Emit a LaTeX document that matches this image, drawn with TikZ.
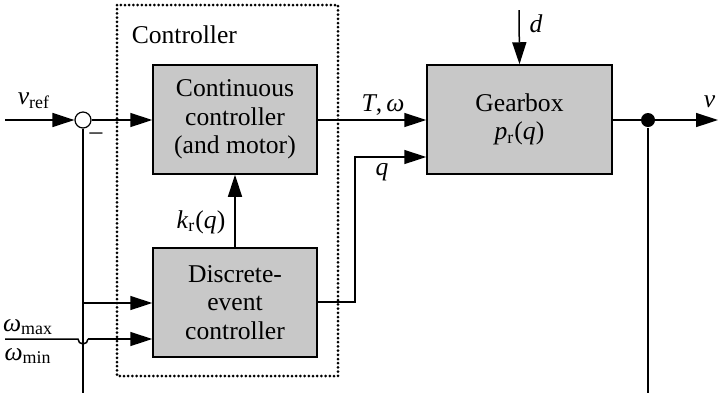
\documentclass[tikz,border=0pt]{standalone}
\usepackage{fontspec}
\setmainfont{Liberation Serif}
\usetikzlibrary{arrows.meta}
\definecolor{blockgray}{RGB}{200,200,200}
\newcommand{\lbl}{\fontsize{12.8}{14.3}\selectfont}
\begin{document}
\begin{tikzpicture}[x=0.5pt,y=-0.5pt,
  line width=0.75pt,
  >={Triangle[length=11pt,width=7pt]},
  block/.style={draw,fill=blockgray,minimum height=54.5pt,align=center,inner sep=0pt,font=\lbl},
  sig/.style={font=\lbl,inner sep=1pt},
  frame/.style={line width=1.5pt,dash pattern=on 0pt off 2.1pt,line cap=round}]
\useasboundingbox (0,0) rectangle (718,393);

% controller boundary
\draw[frame] (117,5) rectangle (338,376);
\node[sig,anchor=base west] (ctrllbl) at (129,43) {Controller};

% blocks
\node[block,minimum width=82pt] (cont) at (235,119.5) {Continuous\\controller\\(and motor)};
\node[block,minimum width=82pt] (disc) at (235,302.5) {Discrete-\\event\\controller};
\node[block,minimum width=92.5pt] (gear) at (519.5,119.5) {Gearbox\\\textit{p}\textsubscript{r}(\textit{q})};

% summing junction
\node[draw,circle,fill=white,minimum size=8pt,inner sep=0pt,line width=0.6pt] (sum) at (83,120) {};
\coordinate (vin) at (5,120);
\draw[->] (vin) -- (sum);
\node[sig] (vref) at (34,101) {\textit{v}\textsubscript{ref}};
\node[sig] (minus) at (96,136) {–};
\draw[->] (sum) -- (cont.west |- sum);

% feedback of v down the left side
\coordinate (fbl) at (83,393);
\coordinate (br) at (83,303);
\draw (sum) -- (fbl);
\draw[->] (br) -- (disc.west |- br);

% omega limits, hopping over the feedback line
\coordinate (win) at (5,339);
\coordinate (hopa) at (78,339);
\coordinate (hopb) at (88,339);
\draw (win) -- (hopa) arc[start angle=180,end angle=0,radius=5];
\draw[->] (hopb) -- (disc.west |- hopb);
\node[sig] (wmax) at (28,327) {\textit{ω}\textsubscript{max}};
\node[sig] (wmin) at (28,356) {\textit{ω}\textsubscript{min}};

% gain schedule
\draw[->] (disc.north) -- (cont.south);
\node[sig] (kr) at (201,222) {\textit{k}\textsubscript{r}(\textit{q})};

% torque and speed to the gearbox
\draw[->] (cont.east |- sum) -- (gear.west |- sum);
\node[sig] (tw) at (383,105) {\textit{T},\,\textit{ω}};

% gear selection q
\coordinate (qa) at (355,302);
\coordinate (qb) at (355,157);
\draw[->] (disc.east |- qa) -- (qa) -- (qb) -- (gear.west |- qb);
\node[sig] (ql) at (382,172) {\textit{q}};

% disturbance
\coordinate (din) at (519,10);
\draw[->] (din) -- (gear.north);
\node[sig] (dl) at (536,24) {\textit{d}};

% output and feedback
\coordinate (vout) at (718,120);
\coordinate (fbr) at (648,393);
\draw[->] (gear.east |- sum) -- (vout);
\node[circle,fill,minimum size=7pt,inner sep=0pt] (tap) at (648,120) {};
\draw (tap) -- (fbr);
\node[sig,anchor=east] (vl) at (718,102) {\textit{v}};
\end{tikzpicture}
\end{document}
